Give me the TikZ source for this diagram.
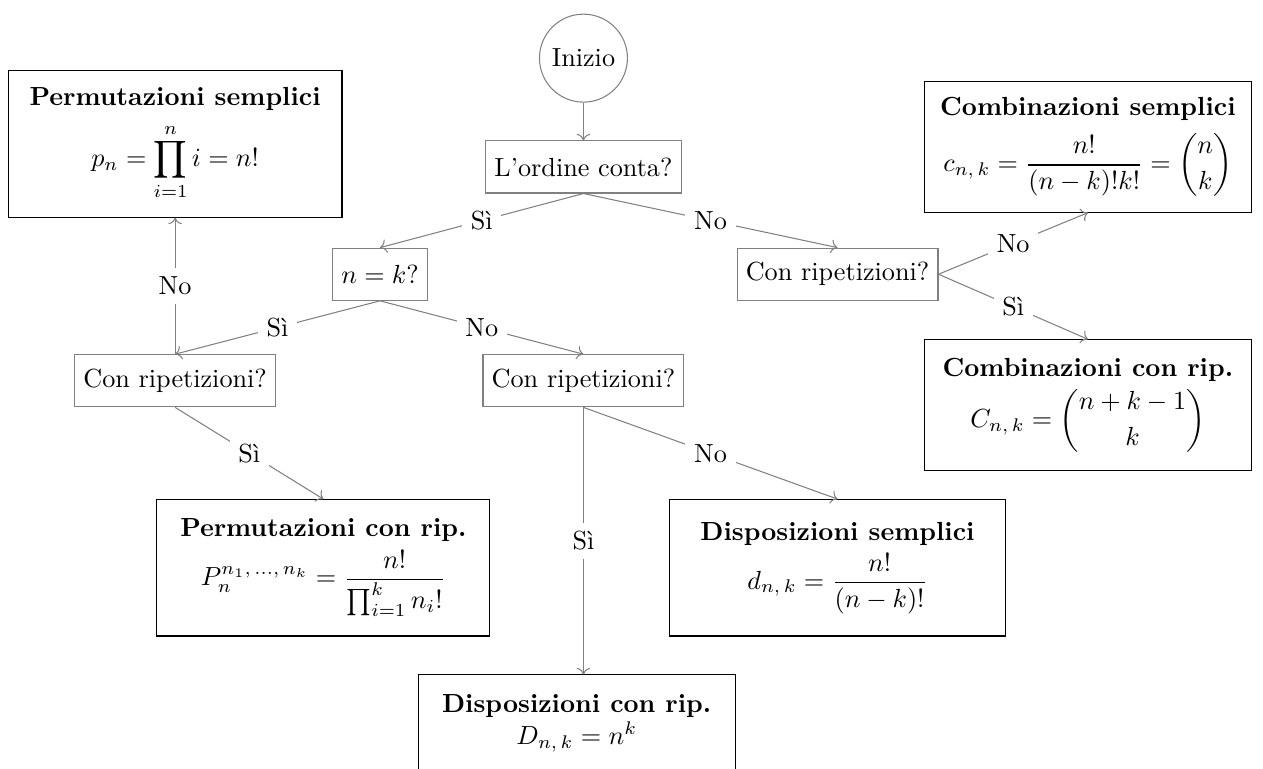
\documentclass[tikz,border=0pt]{standalone}
\usepackage{amsmath,amssymb}
\usepackage{xcolor}
\usetikzlibrary{arrows.meta, positioning}

\begin{document}
\begin{tikzpicture}[
    decision/.style={draw=gray, minimum height=0.7cm},
    result/.style={draw, align=center, inner sep=6pt},
    link/.style={draw=gray, ->},
    lbl/.style={fill=white, midway}]
  \useasboundingbox (0,0) rectangle (16.95,-10.32);
  % ---------- QUESTIONS ----------
  \node[circle, draw=gray] (start) at (7.83,-0.78) {Inizio};
  \node[decision] (ordine) at (7.83,-2.24) {L'ordine conta?};
  \node[decision] (nk) at (5.10,-3.68) {$n = k?$};
  \node[decision] (ripA) at (11.24,-3.68) {Con ripetizioni?};
  \node[decision] (ripB) at (2.35,-5.11) {Con ripetizioni?};
  \node[decision] (ripC) at (7.83,-5.11) {Con ripetizioni?};
  % ---------- RESULTS ----------
  \node[result, minimum width=4.48cm, minimum height=1.97cm] (permS) at (2.35,-1.93)
    {\textbf{Permutazioni semplici}\\[4pt] $\displaystyle p_n = \prod_{i=1}^{n} i = n!$};
  \node[result, minimum width=4.39cm, minimum height=1.64cm] (combS) at (14.60,-1.97)
    {\textbf{Combinazioni semplici}\\[4pt] $\displaystyle c_{n,\,k} = \frac{n!}{(n-k)!k!} = \binom{n}{k}$};
  \node[result, minimum width=4.39cm, minimum height=1.76cm] (combR) at (14.60,-5.44)
    {\textbf{Combinazioni con rip.}\\[2pt] $\displaystyle C_{n,\,k} = \binom{n+k-1}{k}$};
  \node[result, minimum width=4.47cm, minimum height=1.83cm] (permR) at (4.34,-7.62)
    {\textbf{Permutazioni con rip.}\\[2pt] $\displaystyle P_n^{n_1,\,\ldots,\,n_k} = \frac{n!}{\prod_{i=1}^{k} n_i!}$};
  \node[result, minimum width=4.52cm, minimum height=1.83cm] (dispS) at (11.24,-7.62)
    {\textbf{Disposizioni semplici}\\[2pt] $\displaystyle d_{n,\,k} = \frac{n!}{(n-k)!}$};
  \node[result, anchor=north, minimum width=4.26cm, minimum height=1.3cm] (dispR) at (7.74,-9.05)
    {\textbf{Disposizioni con rip.}\\ $D_{n,\,k} = n^k$};
  % ---------- LINKS ----------
  \draw[link] (start) -- (ordine);
  \draw[link] (ordine.south) -- node[lbl] {Sì} (nk.north);
  \draw[link] (ordine.south) -- node[lbl] {No} (ripA.north);
  \draw[link] (nk.south) -- node[lbl] {Sì} (ripB.north);
  \draw[link] (nk.south) -- node[lbl] {No} (ripC.north);
  \draw[link] (ripA.east) -- node[lbl] {No} (combS.south);
  \draw[link] (ripA.east) -- node[lbl] {Sì} (combR.north);
  \draw[link] (ripB.north) -- node[lbl] {No} (permS.south);
  \draw[link] (ripB.south) -- node[lbl] {Sì} (permR.north);
  \draw[link] (ripC.south) -- node[lbl] {No} (dispS.north);
  \draw[link] (ripC.south) -- node[lbl] {Sì} (ripC.south |- dispR.north);
\end{tikzpicture}
\end{document}
